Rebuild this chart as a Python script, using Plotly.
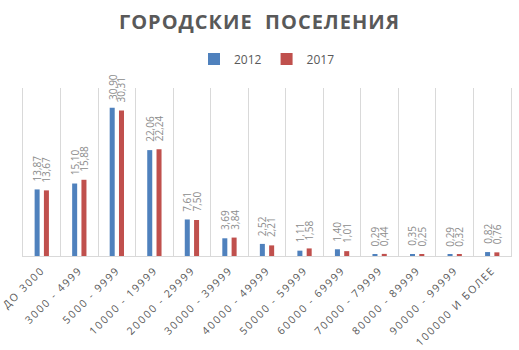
import plotly.graph_objects as go

categories = ["ДО 3000", "3000 - 4999", "5000 - 9999", "10000 - 19999", "20000 - 29999",
              "30000 - 39999", "40000 - 49999", "50000 - 59999", "60000 - 69999",
              "70000 - 79999", "80000 - 89999", "90000 - 99999", "100000 И БОЛЕЕ"]
values_2012 = [13.87, 15.10, 30.90, 22.06, 7.61, 3.69, 2.52, 1.11, 1.40, 0.29, 0.35, 0.29, 0.82]
values_2017 = [13.67, 15.88, 30.31, 22.24, 7.50, 3.84, 2.21, 1.58, 1.01, 0.44, 0.25, 0.32, 0.76]
series_names = ["2012", "2017"]
title_text = "ГОРОДСКИЕ  ПОСЕЛЕНИЯ"

FONT = "Open Sans"
GRAY = "#595959"
LABEL_GRAY = "#8c8c8c"
GRID = "#d9d9d9"
COLORS = ["#4f81bd", "#c0504d"]

fig = go.Figure()
series = [values_2012, values_2017]
for name, vals, color in zip(series_names, series, COLORS):
    fig.add_trace(go.Bar(
        x=categories, y=vals, name=name,
        marker=dict(color=color, line=dict(width=0)),
        hoverinfo="x+y+name",
    ))

# value labels above each bar (rotated)
annotations = []
for si, vals in enumerate(series):
    shift = -4.65 if si == 0 else 4.65
    for c, v in zip(categories, vals):
        annotations.append(dict(
            x=c, y=v, xref="x", yref="y", text=f"{v:.2f}".replace(".", ","),
            showarrow=False, textangle=-90, xanchor="center", yanchor="bottom",
            xshift=shift, yshift=6,
            font=dict(family=FONT, size=10, color=LABEL_GRAY),
        ))

fig.update_layout(
    width=519, height=350,
    margin=dict(l=23, r=8, t=88, b=94),
    paper_bgcolor="white", plot_bgcolor="white",
    barmode="group", bargap=0.505, bargroupgap=0.46,
    title=dict(text="<b>" + title_text + "</b>", x=0.5, xanchor="center",
               y=1 - 22 / 350, yanchor="middle", yref="container",
               font=dict(family=FONT, size=20, color=GRAY)),
    legend=dict(orientation="h", x=0.5, xanchor="center", y=1 - 59 / 350, yanchor="middle",
                yref="container",
                font=dict(family=FONT, size=12, color=GRAY), itemwidth=30,
                traceorder="normal"),
    showlegend=True,
    annotations=annotations,
    font=dict(family=FONT, color=GRAY),
)
fig.update_xaxes(
    type="category", tickson="boundaries", showgrid=True, gridcolor=GRID, gridwidth=1,
    showline=True, linecolor=GRID, linewidth=1, ticks="", tickangle=-45,
    ticklabelstandoff=3,
    tickfont=dict(family=FONT, size=10.5, color=GRAY),
)
fig.update_yaxes(
    range=[0, 35], showgrid=False, zeroline=False, showticklabels=False,
    showline=True, mirror=True, linecolor=GRID, linewidth=1, ticks="",
)

post = """
(function(){
  var gd = document.getElementById('{plot_id}');
  function sp(){
    gd.querySelectorAll('.xtick text').forEach(function(t){ t.style.letterSpacing = '1.7px'; });
    gd.querySelectorAll('.gtitle').forEach(function(t){ t.style.letterSpacing = '1px'; });
  }
  sp();
  if (gd.on) { gd.on('plotly_afterplot', sp); }
})();
"""
fig.write_html("out.html", post_script=post)
